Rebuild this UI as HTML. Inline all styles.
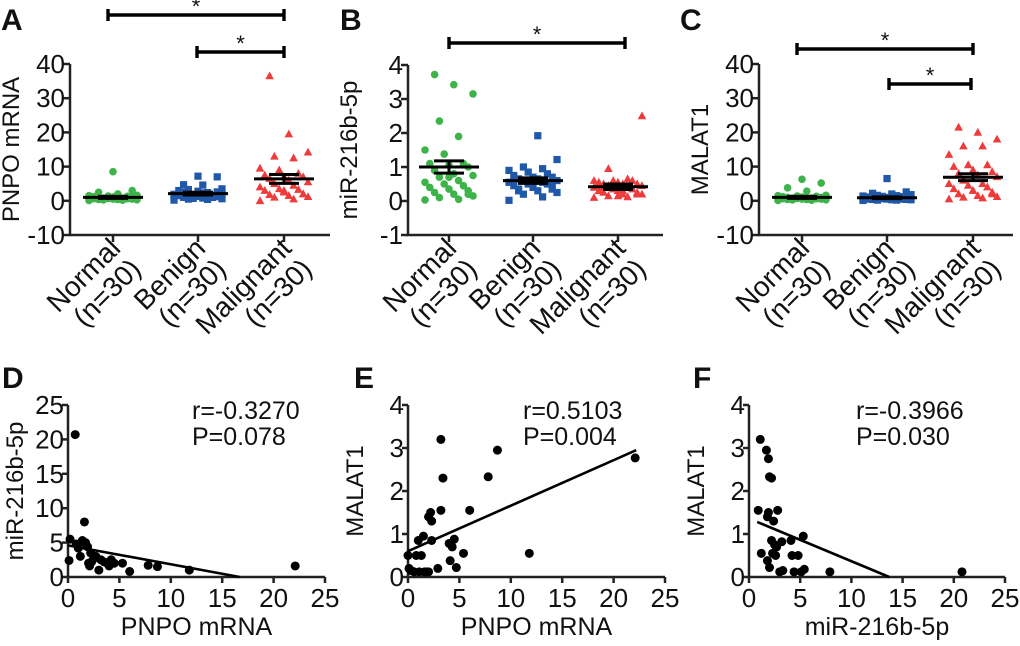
<!DOCTYPE html>
<html><head><meta charset="utf-8"><style>
body{margin:0;background:#fff}
svg text{font-family:"Liberation Sans",sans-serif;fill:#111}
</style></head><body>
<svg id="fig" width="1020" height="641" viewBox="0 0 1020 641" xmlns="http://www.w3.org/2000/svg"></svg>
<script>
// ---- dot plot data ----
const groups = ["Normal","Benign","Malignant"];
const aNormal = [0.1,0.2,0.3,0.3,0.4,0.4,0.5,0.5,0.6,0.6,0.7,0.7,0.8,0.8,0.9,0.9,1.0,1.0,1.1,1.2,1.3,1.4,1.5,0.2,0.3,1.6,2.0,2.5,3.0,8.5];
const aBenign = [0.2,0.4,0.5,0.6,0.8,1.0,1.2,1.3,1.5,1.6,1.8,1.9,2.0,2.1,2.2,2.3,2.5,2.6,2.8,3.0,1.0,0.7,1.4,2.4,3.3,3.5,4.6,4.7,7.0,7.2];
const aMalig = [0.0,0.5,1.0,1.2,1.5,1.8,2.0,2.5,3,3.3,3.5,4,4.5,5,5.5,6,6.5,7,7,7.5,8,9,9.5,12.5,13,14.2,19.5,36.5,2.0,3.0];
const aMean = [1.0,2.1,6.4];
const aSem = [0.3,0.4,1.3];
const bNormal = [0.03,0.05,0.1,0.15,0.2,0.25,0.3,0.35,0.4,0.45,0.5,0.55,0.6,0.7,0.75,0.8,0.9,1.0,1.05,1.1,1.1,1.38,1.5,1.9,2.35,3.15,3.42,3.72,0.2,0.7];
const bBenign = [0.02,0.12,0.2,0.25,0.3,0.3,0.35,0.4,0.45,0.5,0.5,0.55,0.55,0.6,0.6,0.65,0.65,0.7,0.7,0.75,0.8,0.85,0.9,0.95,1.0,1.22,1.92,0.35,0.45,0.5];
const bMalig = [0.1,0.12,0.15,0.2,0.2,0.25,0.25,0.3,0.3,0.35,0.35,0.4,0.4,0.45,0.45,0.5,0.5,0.5,0.55,0.55,0.6,0.6,0.6,0.65,0.95,2.5,0.3,0.4,0.2,0.15];
const bMean = [1.0,0.6,0.42];
const bSem = [0.18,0.08,0.08];
const cNormal = [0.1,0.2,0.3,0.3,0.4,0.4,0.5,0.5,0.6,0.6,0.7,0.7,0.8,0.8,0.9,0.9,1.0,1.0,1.1,1.2,1.3,1.4,1.5,0.2,0.3,1.6,2.8,3.8,5.2,6.3];
const cBenign = [0.1,0.2,0.2,0.3,0.3,0.4,0.4,0.5,0.5,0.5,0.6,0.6,0.7,0.7,0.8,0.8,0.9,1.0,1.0,1.1,1.2,1.3,1.4,1.5,1.6,1.8,2.0,2.2,2.6,6.5];
const cMalig = [0.5,0.8,1,1.2,1.5,2,2.5,3,3.5,4,4.5,5,5,6,7,7.5,8,8.5,9,10,10.5,10.5,13.5,16,16,18,20,21.5,2,3];
const cMean = [1.0,0.9,6.9];
const cSem = [0.3,0.25,1.0];
// ---- scatter data ----
const dX = [0.2,0.1,0.7,0.8,1,1.2,1.4,1.6,1.7,1.9,2.1,2.2,2.3,2.5,2.7,3,3.2,3.5,3.8,4,4.2,4.5,5.3,6,7.8,8.7,11.8,22.1,1,2];
const dY = [5.5,2.4,20.7,4.8,4.2,3,5.3,8,5,4.4,1.6,3.5,2.2,2.7,3,1,2.5,2.2,2,1.6,2.5,2,2,0.8,1.7,1.5,1,1.6,4.5,2];
const dFit = [[0,4.6],[16.7,0]];
const eX = [0,0.1,0.3,0.6,0.8,1,1.1,1.3,1.5,1.6,1.8,2,2,2.2,2.3,2.3,2.9,3.2,3.2,3.4,4,4.1,4.3,4.5,4.7,5.4,6,7.8,8.7,11.8,22.1];
const eY = [0.5,0.2,0.15,0.12,0.5,0.85,0.12,0.5,0.95,0.12,0.12,0.12,1.4,1.5,1.3,0.85,0.2,3.2,1.55,2.3,0.78,0.38,0.7,0.88,0.22,0.55,1.55,2.33,2.95,0.55,2.77];
const eFit = [[0,0.6],[22.2,2.95]];
const fX = [0.9,1.1,1.2,1.7,1.8,1.8,1.9,1.9,2,2,2.2,2.2,2.3,2.4,2.5,2.6,2.7,2.8,3,3.2,3.3,4.1,4.2,4.4,4.8,5.1,5.3,5.4,7.9,20.8];
const fY = [1.55,3.2,0.55,2.95,0.38,1.4,1.5,2.75,0.22,2.33,2.3,0.85,0.55,1.3,0.75,0.5,0.7,1.55,0.12,0.82,0.15,0.85,0.5,0.12,0.5,0.12,0.95,0.18,0.12,0.12];
const fFit = [[0.8,1.28],[13.7,0]];
const dotTicks = [[-10,0,10,20,30,40],[-1,0,1,2,3,4],[-10,0,10,20,30,40]];
const scXTicks = [0,5,10,15,20,25];
const scYTicksD = [0,5,10,15,20,25];
const scYTicksEF = [0,1,2,3,4];

const svg = document.getElementById('fig');
const NS = 'http://www.w3.org/2000/svg';
function el(tag, attrs, parent){const e=document.createElementNS(NS,tag);for(const k in attrs)e.setAttribute(k,attrs[k]);(parent||svg).appendChild(e);return e;}
function txt(s, attrs, parent){const t=el('text',attrs,parent);t.textContent=s;return t;}
const COL=['#3db34a','#1f58a8','#ee3b3b'];
const AX='#222';
const FS=26;

function panelLetter(L,x,y){
  const t=txt(L,{x:x,y:y,'font-size':30,'font-weight':'bold'});
  
  
}

function dotPanel(cfg){
  const g=el('g',{});
  
  
  const y=v=>cfg.y0+(v-cfg.ymin)/(cfg.ymax-cfg.ymin)*(cfg.y1-cfg.y0);
  const ax=el('path',{d:`M${cfg.ax},${y(cfg.ymax)} V${cfg.y0} H${cfg.xend}`,stroke:AX,'stroke-width':2.5,fill:'none'},g);
  
  
  cfg.ticks.forEach(t=>{
    el('line',{x1:cfg.ax-7,x2:cfg.ax,y1:y(t),y2:y(t),stroke:AX,'stroke-width':2.5},g);
    const l=txt(String(t),{x:cfg.ax-5,y:y(t)+9,'font-size':FS,'text-anchor':'end'},g);
    
    
  });
  const yl=txt(cfg.ylabel,{transform:`translate(${cfg.ax-51},${(y(cfg.ymax)+cfg.y0)/2}) rotate(-90)`,'font-size':24,'text-anchor':'middle'},g);
  
  
  cfg.series.forEach((arr,gi)=>{
    const cx=cfg.cats[gi];
    el('line',{x1:cx,x2:cx,y1:cfg.y0,y2:cfg.y0+7,stroke:AX,'stroke-width':2.5},g);
    const lab=el('g',{transform:`translate(${cx+9},${cfg.y0+15}) rotate(-45)`},g);
    
    
    txt(groups[gi],{x:0,y:0,'font-size':28,'text-anchor':'end'},lab);
    txt('(n=30)',{x:0,y:29,'font-size':28,'text-anchor':'end'},lab);
    arr.forEach((v,i)=>{
      const off=(((i*7)%11)-5)*4.8;
      const px=cx+off, py=y(v);
      let m;
      if(gi===0) m=el('circle',{cx:px,cy:py,r:3.8,fill:COL[0]},g);
      else if(gi===1) m=el('rect',{x:px-3.6,y:py-3.6,width:7.2,height:7.2,fill:COL[1]},g);
      else m=el('path',{d:`M${px},${py-4.5} L${px+4.3},${py+3.3} L${px-4.3},${py+3.3}Z`,fill:COL[2]},g);
      
      
    });
    const mean=cfg.mean[gi], sem=cfg.sem[gi];
    const mb=el('path',{d:`M${cx-30},${y(mean)} H${cx+30} M${cx},${y(mean-sem)} V${y(mean+sem)} M${cx-15},${y(mean-sem)} H${cx+15} M${cx-15},${y(mean+sem)} H${cx+15}`,stroke:'#000','stroke-width':3,fill:'none'},g);
    
    
  });
  cfg.sig.forEach(s=>{
    const b=el('path',{d:`M${s[0]},${s[2]} H${s[1]} M${s[0]},${s[2]-6} V${s[2]+6} M${s[1]},${s[2]-6} V${s[2]+6}`,stroke:'#000','stroke-width':3.4,fill:'none'},g);
    
    
    const st=txt('*',{x:(s[0]+s[1])/2,y:s[2]-1,'font-size':22,'text-anchor':'middle'},g);
    
    
  });
}

function scatterPanel(cfg){
  const g=el('g',{});
  
  
  const x=v=>cfg.ax+v/25*(cfg.xend-cfg.ax);
  const y=v=>cfg.y0-v/cfg.ymax*(cfg.y0-cfg.ytop);
  const ax=el('path',{d:`M${cfg.ax},${cfg.ytop} V${cfg.y0} H${cfg.xend}`,stroke:AX,'stroke-width':2.5,fill:'none'},g);
  
  
  cfg.yticks.forEach(t=>{
    el('line',{x1:cfg.ax-6,x2:cfg.ax,y1:y(t),y2:y(t),stroke:AX,'stroke-width':2.5},g);
    const l=txt(String(t),{x:cfg.ax-4,y:y(t)+9,'font-size':FS,'text-anchor':'end'},g);
    
    
  });
  scXTicks.forEach(t=>{
    el('line',{x1:x(t),x2:x(t),y1:cfg.y0,y2:cfg.y0+6,stroke:AX,'stroke-width':2.5},g);
    const l=txt(String(t),{x:x(t),y:cfg.y0+30,'font-size':FS,'text-anchor':'middle'},g);
    
    
  });
  const xl=txt(cfg.xlabel,{x:(cfg.ax+cfg.xend)/2,y:cfg.y0+58,'font-size':25,'text-anchor':'middle'},g);
  
  
  const yl=txt(cfg.ylabel,{transform:`translate(${cfg.ax-45},${(cfg.ytop+cfg.y0)/2}) rotate(-90)`,'font-size':24,'text-anchor':'middle'},g);
  
  
  cfg.xs.forEach((v,i)=>{
    const c=el('circle',{cx:x(v),cy:y(cfg.ys[i]),r:4.5,fill:'#000'},g);
    
    
  });
  const f=cfg.fit;
  const ln=el('line',{x1:x(f[0][0]),y1:y(f[0][1]),x2:x(f[1][0]),y2:y(f[1][1]),stroke:'#000','stroke-width':2.6},g);
  
  
  const r=txt(cfg.r,{x:cfg.annX,y:cfg.ytop+14,'font-size':25},g);
  
  
  const p=txt(cfg.p,{x:cfg.annX,y:cfg.ytop+40,'font-size':25},g);
  
  
}

panelLetter('A',1,30);panelLetter('B',340,30);panelLetter('C',680,30);
panelLetter('D',2,388);panelLetter('E',354,388);panelLetter('F',693,388);

dotPanel({name:'panel-a-pnpo',ax:70,xend:330,y0:235,y1:64,ymin:-10,ymax:40,ticks:dotTicks[0],ylabel:'PNPO mRNA',
  cats:[113,198,284],series:[aNormal,aBenign,aMalig],mean:aMean,sem:aSem,sig:[[108,284,15],[197,284,52]]});
dotPanel({name:'panel-b-mir216b',ax:408,xend:663,y0:235,y1:65,ymin:-1,ymax:4,ticks:dotTicks[1],ylabel:'miR-216b-5p',
  cats:[449,533,618],series:[bNormal,bBenign,bMalig],mean:bMean,sem:bSem,sig:[[449,625,43]]});
dotPanel({name:'panel-c-malat1',ax:759,xend:1013,y0:235,y1:64,ymin:-10,ymax:40,ticks:dotTicks[2],ylabel:'MALAT1',
  cats:[802,887,973],series:[cNormal,cBenign,cMalig],mean:cMean,sem:cSem,sig:[[797,973,49],[889,971,84]]});

scatterPanel({name:'panel-d-scatter',ax:68,xend:325,y0:577,ytop:405,ymax:25,yticks:scYTicksD,xs:dX,ys:dY,fit:dFit,
  xlabel:'PNPO mRNA',ylabel:'miR-216b-5p',r:'r=-0.3270',p:'P=0.078',annX:192});
scatterPanel({name:'panel-e-scatter',ax:408,xend:665,y0:577,ytop:405,ymax:4,yticks:scYTicksEF,xs:eX,ys:eY,fit:eFit,
  xlabel:'PNPO mRNA',ylabel:'MALAT1',r:'r=0.5103',p:'P=0.004',annX:523});
scatterPanel({name:'panel-f-scatter',ax:749,xend:1005,y0:577,ytop:405,ymax:4,yticks:scYTicksEF,xs:fX,ys:fY,fit:fFit,
  xlabel:'miR-216b-5p',ylabel:'MALAT1',r:'r=-0.3966',p:'P=0.030',annX:856});
</script>
</body></html>
